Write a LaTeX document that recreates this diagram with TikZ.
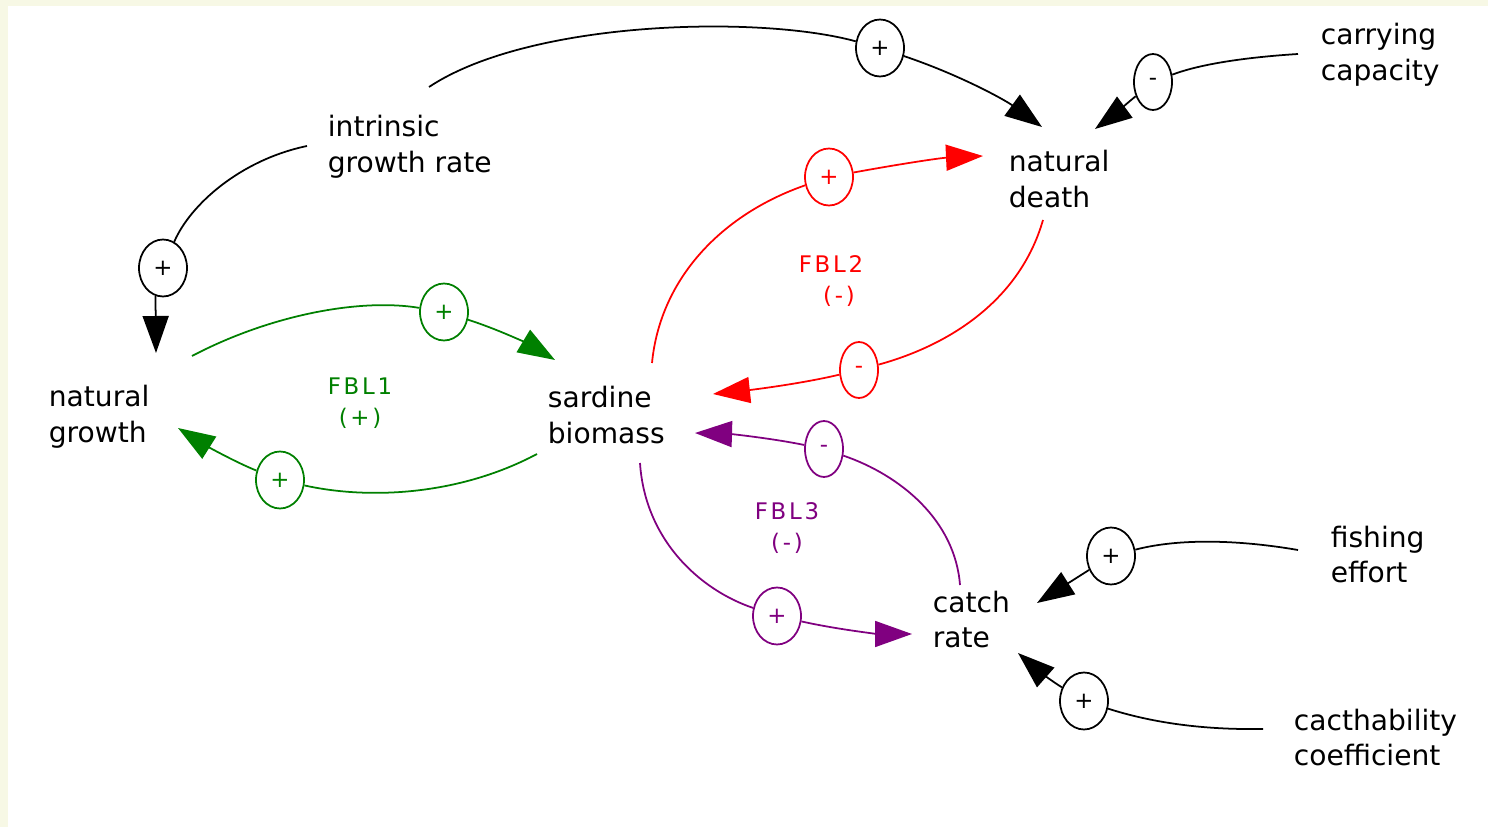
\documentclass[tikz,border=0pt]{standalone}
\usepackage{fontspec}
\setmainfont{DejaVu Sans}
\newfontfamily\fblfont[LetterSpace=12]{DejaVu Sans}
\usetikzlibrary{arrows.meta,shapes.geometric}
\definecolor{cream}{RGB}{247,248,229}
\definecolor{lgreen}{RGB}{0,128,0}
\definecolor{lpurple}{RGB}{128,0,128}
\definecolor{lred}{RGB}{255,0,0}
\newcommand{\twoline}[2]{\begin{tabular}[t]{@{}l@{}}#1\\#2\end{tabular}}
\begin{document}
\begin{tikzpicture}[x=0.02cm,y=-0.02cm,line width=1pt,
  lbl/.style={anchor=base west, inner sep=0pt, font=\fontsize{16}{20.4}\selectfont},
  pol/.style={draw, ellipse, inner sep=0pt, minimum width=0.96cm, minimum height=1.14cm, font=\fontsize{13}{14}\selectfont},
  polm/.style={pol, minimum width=0.76cm, minimum height=1.12cm},
  loopl/.style={align=center, inner sep=0pt, font=\fblfont\fontsize{13}{17.6}\selectfont},
  arr/.style={-{Triangle[length=0.74cm,width=0.52cm]}}
]
\fill[cream] (0,0) rectangle (1488,827);
\fill[white] (8,6) rectangle (1488,827);
\useasboundingbox (0,0) rectangle (1488,827);

% variables
\node[lbl] (igr) at (327,137) {\twoline{intrinsic}{growth rate}};
\node[lbl] (cc)  at (1320,45) {\twoline{carrying}{capacity}};
\node[lbl] (nd)  at (1008,172) {\twoline{natural}{death}};
\node[lbl] (ng)  at (48,407) {\twoline{natural}{growth}};
\node[lbl] (sb)  at (547,408) {\twoline{sardine}{biomass}};
\node[lbl] (cr)  at (932,612) {\twoline{catch}{rate}};
\node[lbl] (fe)  at (1330,547) {\twoline{fishing}{effort}};
\node[lbl] (cac) at (1293,730) {\twoline{cacthability}{coefficient}};

% polarity markers
\node[pol] (p1) at (880,48) {+};
\node[polm] (p2) at (1153,82) {-};
\node[pol] (p3) at (163,268) {+};
\node[pol,lgreen] (p4) at (444,312) {+};
\node[pol,lgreen] (p5) at (280,480) {+};
\node[pol,lred] (p6) at (829,177) {+};
\node[polm,lred] (p7) at (859,370) {-};
\node[polm,lpurple] (p8) at (824,449) {-};
\node[pol,lpurple] (p9) at (777,616) {+};
\node[pol] (p10) at (1111,556) {+};
\node[pol] (p11) at (1084,701) {+};

% loop labels
\node[loopl,lgreen] (fbl1) at (360,403) {FBL1\\(+)};
\node[loopl,lred] (fbl2) at (831,281) {FBL2\\\hspace*{0.32cm}(-)};
\node[loopl,lpurple] (fbl3) at (787,528) {FBL3\\(-)};

% connector end points
\coordinate (igrA) at (429,87);
\coordinate (igrB) at (307,146);
\coordinate (ndIn1) at (1042,127);
\coordinate (ndIn2) at (1095,129);
\coordinate (ndIn3) at (983,156);
\coordinate (ndOut) at (1043,220);
\coordinate (ccOut) at (1298,54);
\coordinate (ngIn1) at (156,353);
\coordinate (ngIn2) at (178,428);
\coordinate (ngOut) at (192,356);
\coordinate (sbIn1) at (555,360);
\coordinate (sbIn2) at (713,394);
\coordinate (sbIn3) at (695,433);
\coordinate (sbOut1) at (537,454);
\coordinate (sbOut2) at (652,363);
\coordinate (sbOut3) at (640,463);
\coordinate (crOut) at (960,585);
\coordinate (crIn1) at (912,634);
\coordinate (crIn2) at (1037,603);
\coordinate (crIn3) at (1018,653);
\coordinate (feOut) at (1298,550);
\coordinate (cacOut) at (1263,729);

% black links
\draw (igrA) .. controls (530,20) and (760,15) .. (p1);
\draw[arr] (p1) .. controls (960,75) and (1005,100) .. (ndIn1);
\draw (ccOut) .. controls (1235,58) and (1195,66) .. (p2);
\draw[arr] (p2) .. controls (1125,105) and (1110,118) .. (ndIn2);
\draw (igrB) .. controls (240,160) and (190,205) .. (p3);
\draw[arr] (p3.-105) -- (ngIn1);
\draw (feOut) .. controls (1240,540) and (1180,538) .. (p10);
\draw[arr] (p10) -- (crIn2);
\draw (cacOut) .. controls (1200,730) and (1150,722) .. (p11);
\draw[arr] (p11) .. controls (1050,680) and (1035,668) .. (crIn3);

% FBL1
\draw[lgreen] (ngOut) .. controls (270,315) and (360,298) .. (p4);
\draw[lgreen,arr] (p4) .. controls (500,330) and (530,345) .. (sbIn1);
\draw[lgreen] (sbOut1) .. controls (460,495) and (370,500) .. (p5);
\draw[lgreen,arr] (p5) .. controls (235,462) and (205,445) .. (ngIn2);

% FBL2
\draw[lred] (sbOut2) .. controls (660,280) and (720,215) .. (p6);
\draw[lred,arr] (p6) .. controls (900,164) and (940,158) .. (ndIn3);
\draw[lred] (ndOut) .. controls (1020,300) and (950,345) .. (p7);
\draw[lred,arr] (p7) .. controls (800,384) and (750,390) .. (sbIn2);

% FBL3
\draw[lpurple] (crOut) .. controls (955,520) and (900,475) .. (p8);
\draw[lpurple,arr] (p8) .. controls (770,438) and (730,434) .. (sbIn3);
\draw[lpurple] (sbOut3) .. controls (645,540) and (700,590) .. (p9);
\draw[lpurple,arr] (p9) .. controls (840,630) and (880,634) .. (crIn1);
\end{tikzpicture}
\end{document}
